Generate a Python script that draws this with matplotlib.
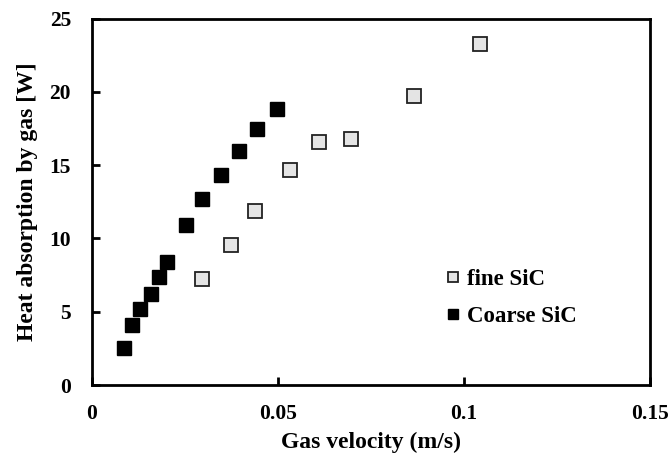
import matplotlib
matplotlib.use("Agg")
import matplotlib.pyplot as plt

# data
coarse_v = [0.0087, 0.0109, 0.0131, 0.0158, 0.0181, 0.0203, 0.0252, 0.0297, 0.0346, 0.0395, 0.0444, 0.0498]
coarse_q = [2.5, 4.1, 5.2, 6.2, 7.4, 8.4, 10.9, 12.7, 14.3, 16.0, 17.5, 18.85]
fine_v = [0.0297, 0.0373, 0.0440, 0.0534, 0.0610, 0.0697, 0.0867, 0.1042]
fine_q = [7.25, 9.55, 11.9, 14.65, 16.6, 16.8, 19.7, 23.25]

x_ticks = [0, 0.05, 0.1, 0.15]
x_labels = ["0", "0.05", "0.1", "0.15"]
y_ticks = [0, 5, 10, 15, 20, 25]

plt.rcParams["font.family"] = ["Liberation Serif", "DejaVu Serif"]
plt.rcParams["font.weight"] = "bold"

fig = plt.figure(figsize=(6.71, 4.55), dpi=100)
ax = fig.add_axes([0.1367, 0.1538, 0.8320, 0.8052])

ax.plot(fine_v, fine_q, "s", ms=9.5, mfc="#e4e4e4", mec="#222222", mew=1.3,
        linestyle="none", label="fine SiC")
ax.plot(coarse_v, coarse_q, "s", ms=10, mfc="black", mec="black",
        linestyle="none", label="Coarse SiC")

ax.set_xlim(0, 0.15)
ax.set_ylim(0, 25)
ax.set_xticks(x_ticks)
ax.set_xticklabels(x_labels)
ax.set_yticks(y_ticks)
ax.tick_params(direction="in", length=6, width=2, labelsize=15.5)
ax.tick_params(axis="x", pad=14)
ax.tick_params(axis="y", pad=15)
for lab in ax.get_xticklabels() + ax.get_yticklabels():
    lab.set_fontweight("bold")

for s in ax.spines.values():
    s.set_linewidth(2)

ax.set_xlabel("Gas velocity (m/s)", fontsize=17, fontweight="bold", labelpad=5)
ax.set_ylabel("Heat absorption by gas [W]", fontsize=17, fontweight="bold", labelpad=8)

ax.legend(loc="center left", bbox_to_anchor=(0.598, 0.238), frameon=False,
          prop={"size": 16.5, "weight": "bold"}, handlelength=0.6, handletextpad=0.3,
          labelspacing=0.68, markerscale=0.75)

fig.savefig("out.png", dpi=100)
